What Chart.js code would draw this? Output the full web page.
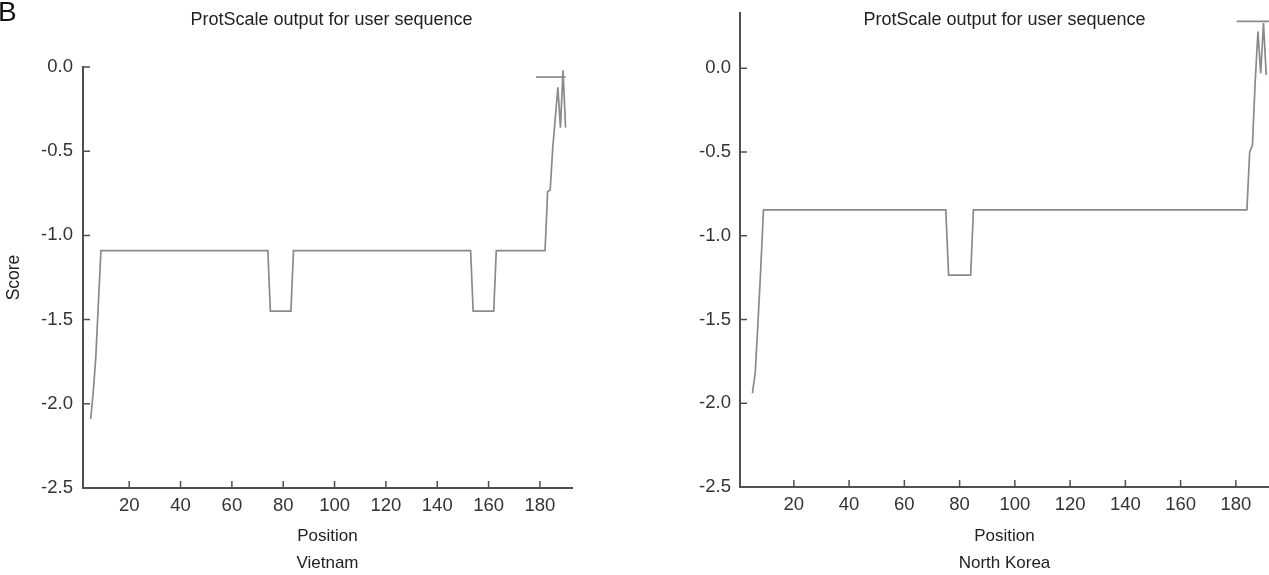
<!DOCTYPE html>
<html>
<head>
<meta charset="utf-8">
<title>ProtScale output for user sequence</title>
<script src="https://cdn.jsdelivr.net/npm/chart.js@4.4.1/dist/chart.umd.min.js"></script>
<style>
  html, body { margin: 0; padding: 0; background: #fff; overflow: hidden; }
  #wrap { position: relative; width: 1269px; height: 575px; }
  canvas { position: absolute; top: 0; }
  #left { left: 0; }
  #right { left: 634px; }
  #panel { position: absolute; left: -2px; top: -2px; font: 28px/1 "Liberation Sans", Arial, sans-serif; color: #111; }
</style>
</head>
<body>
<div id="wrap">
  <canvas id="left" width="634" height="575"></canvas>
  <canvas id="right" width="635" height="575"></canvas>
  <div id="panel">B</div>
</div>
<script>
const xTicks = [20, 40, 60, 80, 100, 120, 140, 160, 180];
const yTicks = [-2.5, -2.0, -1.5, -1.0, -0.5, 0.0];
const chartTitle = 'ProtScale output for user sequence';

// Vietnam profile, breakpoints (position, score)
const vnPos   = [5, 6, 7, 8, 9, 74, 75, 83, 84, 153, 154, 162, 163, 182, 183, 184, 185, 186, 187, 188, 189, 190];
const vnScore = [-2.09, -1.93, -1.72, -1.40, -1.09, -1.09, -1.45, -1.45, -1.09, -1.09, -1.45, -1.45, -1.09,
                 -1.09, -0.74, -0.73, -0.48, -0.30, -0.12, -0.36, -0.02, -0.36];
// cursor line left on the plot
const vnMarkX = [178.5, 190];
const vnMarkY = [-0.06, -0.06];

// North Korea profile
const nkPos   = [5, 6, 7, 8, 9, 75, 76, 84, 85, 184, 185, 186, 187, 188, 189, 190, 191];
const nkScore = [-1.94, -1.82, -1.52, -1.20, -0.845, -0.845, -1.235, -1.235, -0.845,
                 -0.845, -0.50, -0.46, -0.08, 0.22, -0.03, 0.27, -0.04];
const nkMarkX = [180.3, 192];
const nkMarkY = [0.28, 0.28];

const FONT = '"Liberation Sans", Arial, Helvetica, sans-serif';
const lineGrey = '#8a8a8a';
const axisGrey = '#505050';

// tick marks pointing into the plot
const innerTicks = {
    id: 'innerTicks',
    afterDraw(chart) {
        const { ctx, chartArea, scales } = chart;
        ctx.save();
        ctx.strokeStyle = axisGrey;
        ctx.lineWidth = 1.5;
        ctx.beginPath();
        scales.x.ticks.forEach(t => {
            const px = scales.x.getPixelForValue(t.value);
            ctx.moveTo(px, chartArea.bottom);
            ctx.lineTo(px, chartArea.bottom - 7);
        });
        scales.y.ticks.forEach(t => {
            const py = scales.y.getPixelForValue(t.value);
            ctx.moveTo(chartArea.left, py);
            ctx.lineTo(chartArea.left + 7, py);
        });
        ctx.stroke();
        ctx.restore();
    }
};

// the title sits partly over the plot on the right panel, so draw it by hand
const panelTitle = {
    id: 'panelTitle',
    afterDraw(chart, args, opts) {
        const { ctx, chartArea } = chart;
        ctx.save();
        ctx.font = '18px ' + FONT;
        ctx.fillStyle = '#222';
        ctx.textAlign = 'center';
        ctx.textBaseline = 'middle';
        ctx.fillText(opts.text, (chartArea.left + chartArea.right) / 2 + opts.dx, opts.y);
        ctx.restore();
    }
};

function points(xs, ys) {
    return xs.map((x, i) => ({ x: x, y: ys[i] }));
}

function profileChart(id, cfg) {
    return new Chart(document.getElementById(id), {
        type: 'line',
        data: {
            datasets: [
                { data: points(cfg.pos, cfg.score), borderColor: lineGrey, borderWidth: 1.7, pointRadius: 0, tension: 0 },
                { data: points(cfg.markX, cfg.markY), borderColor: lineGrey, borderWidth: 1.7, pointRadius: 0, tension: 0 }
            ]
        },
        options: {
            responsive: false,
            animation: false,
            layout: { padding: { left: 0, right: cfg.padRight, top: cfg.top, bottom: 0 } },
            plugins: {
                legend: { display: false },
                tooltip: { enabled: false },
                title: { display: false },
                panelTitle: { text: chartTitle, y: 20, dx: cfg.titleDx }
            },
            scales: {
                x: {
                    type: 'linear',
                    min: cfg.xMin,
                    max: cfg.xMax,
                    afterBuildTicks: s => { s.ticks = xTicks.map(v => ({ value: v })); },
                    afterFit: s => { s.height = cfg.xAxisH; s.paddingLeft = 0; s.paddingRight = 0; },
                    grid: { display: false, drawTicks: false },
                    border: { color: axisGrey, width: 2 },
                    ticks: { color: '#333', font: { family: FONT, size: 18.5 }, padding: 7, autoSkip: false, maxRotation: 0 },
                    title: {
                        display: true,
                        text: ['Position', cfg.country],
                        color: '#222',
                        font: { family: FONT, size: 17, lineHeight: 1.55 },
                        padding: { top: 0, bottom: -1 }
                    }
                },
                y: {
                    min: -2.5,
                    max: cfg.yMax,
                    afterBuildTicks: s => { s.ticks = yTicks.map(v => ({ value: v })); },
                    afterFit: s => { s.width = cfg.yAxisW; s.paddingTop = 0; s.paddingBottom = 0; },
                    grid: { display: false, drawTicks: false },
                    border: { color: axisGrey, width: 2 },
                    ticks: { color: '#333', font: { family: FONT, size: 18.5 }, padding: cfg.tickPad, callback: v => v.toFixed(1) },
                    title: {
                        display: cfg.yTitle,
                        text: 'Score',
                        color: '#222',
                        font: { family: FONT, size: 17.5, lineHeight: 1.2 },
                        padding: { top: 4, bottom: 0 }
                    }
                }
            }
        },
        plugins: [innerTicks, panelTitle]
    });
}

profileChart('left', {
    pos: vnPos, score: vnScore, markX: vnMarkX, markY: vnMarkY,
    country: 'Vietnam', xMin: 2, xMax: 192.5, yMax: 0,
    yAxisW: 83, xAxisH: 87, padRight: 62, top: 67, tickPad: 10, titleDx: 4, yTitle: true
});

profileChart('right', {
    pos: nkPos, score: nkScore, markX: nkMarkX, markY: nkMarkY,
    country: 'North Korea', xMin: 0.5, xMax: 192, yMax: 0.33,
    yAxisW: 106, xAxisH: 88, padRight: 0, top: 13, tickPad: 9, titleDx: 0, yTitle: false
});
</script>
</body>
</html>
